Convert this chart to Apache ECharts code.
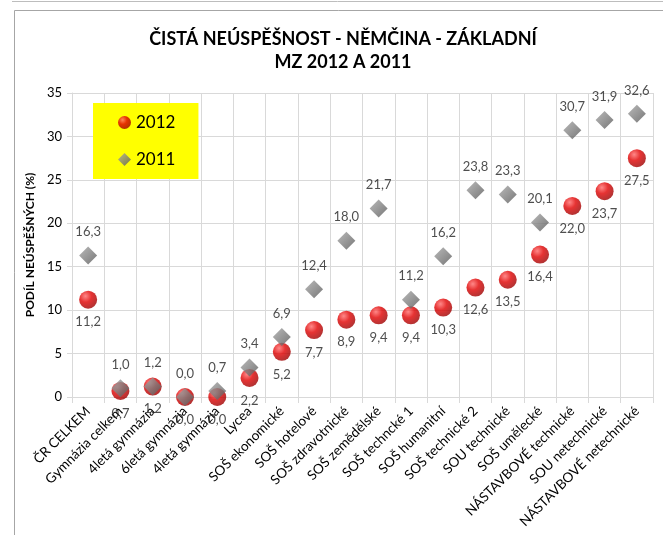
<!DOCTYPE html>
<html>
<head>
<meta charset="utf-8">
<script src="https://cdn.jsdelivr.net/npm/echarts@6/dist/echarts.min.js"></script>
<style>
  html, body { margin: 0; padding: 0; background: #fff; }
  #chart { width: 663px; height: 535px; }
</style>
</head>
<body>
<div id="chart"></div>
<script>
// kategorie škol
var categories = [
  'ČR CELKEM', 'Gymnázia celkem', '4letá gymnázia', '6letá gymnázia', '4letá gymnázia',
  'Lycea', 'SOŠ ekonomické', 'SOŠ hotelové', 'SOŠ zdravotnické', 'SOŠ zemědělské',
  'SOŠ techncké 1', 'SOŠ humanitní', 'SOŠ technické 2', 'SOU technické', 'SOŠ umělecké',
  'NÁSTAVBOVÉ technické', 'SOU netechnické', 'NÁSTAVBOVÉ netechnické'
]
var values2012 = [11.2, 0.7, 1.2, 0.0, 0.0, 2.2, 5.2, 7.7, 8.9, 9.4, 9.4, 10.3, 12.6, 13.5, 16.4, 22.0, 23.7, 27.5]
var values2011 = [16.3, 1.0, 1.2, 0.0, 0.7, 3.4, 6.9, 12.4, 18.0, 21.7, 11.2, 16.2, 23.8, 23.3, 20.1, 30.7, 31.9, 32.6]
var yTicks = [0, 5, 10, 15, 20, 25, 30, 35]

var fontFamily = 'Lato, "Open Sans", sans-serif'
var chart = echarts.init(document.getElementById('chart'))

// číslo s desetinnou čárkou
function fmt(p) {
  return p.value.toFixed(1).replace('.', ',')
}

var redBall = new echarts.graphic.RadialGradient(0.35, 0.3, 0.75, [
  { offset: 0, color: '#ff6a6a' },
  { offset: 0.45, color: '#e00000' },
  { offset: 1, color: '#9a0000' }
])
var grayDiamond = new echarts.graphic.LinearGradient(0, 0, 1, 1, [
  { offset: 0, color: '#a8a8a8' },
  { offset: 0.5, color: '#7f7f7f' },
  { offset: 1, color: '#555555' }
])

chart.setOption({
  animation: false,
  textStyle: { fontFamily: fontFamily },
  title: {
    text: 'ČISTÁ NEÚSPĚŠNOST - NĚMČINA - ZÁKLADNÍ\nMZ 2012 A 2011',
    left: 338,
    textAlign: 'center',
    top: 23,
    textStyle: {
      fontFamily: fontFamily,
      fontSize: 18,
      fontWeight: 'bold',
      color: '#000',
      lineHeight: 23
    }
  },
  graphic: [
    { type: 'line', shape: { x1: 12, y1: 1.5, x2: 663, y2: 1.5 }, style: { stroke: '#bdbdbd', lineWidth: 1 } },
    { type: 'line', shape: { x1: 14.5, y1: 10.5, x2: 663, y2: 10.5 }, style: { stroke: '#a6a6a6', lineWidth: 1 } },
    { type: 'line', shape: { x1: 14.5, y1: 10.5, x2: 14.5, y2: 535 }, style: { stroke: '#a6a6a6', lineWidth: 1 } }
  ],
  legend: {
    orient: 'vertical',
    left: 93,
    top: 103,
    backgroundColor: '#ffff00',
    padding: [11, 23, 11, 25],
    itemGap: 20,
    itemWidth: 13,
    itemHeight: 13,
    data: ['2012', '2011'],
    textStyle: { fontSize: 17, color: '#000', fontFamily: fontFamily }
  },
  grid: {
    left: 72,
    right: 10,
    top: 93,
    bottom: 138
  },
  xAxis: {
    type: 'category',
    data: categories,
    boundaryGap: true,
    axisLine: { show: true, lineStyle: { color: '#d9d9d9' } },
    axisTick: { show: true, length: 6, lineStyle: { color: '#d9d9d9' } },
    splitLine: { show: true, lineStyle: { color: '#d9d9d9' } },
    axisLabel: {
      interval: 0,
      rotate: 45,
      fontSize: 13.5,
      color: '#000',
      margin: 12
    }
  },
  yAxis: {
    type: 'value',
    min: 0,
    max: 35,
    interval: 5,
    name: 'PODÍL NEÚSPĚŠNÝCH (%)',
    nameLocation: 'middle',
    nameRotate: 90,
    nameGap: 23,
    nameTextStyle: { fontSize: 12, fontWeight: 'bold', color: '#000' },
    axisLine: { show: true, lineStyle: { color: '#d9d9d9' } },
    axisTick: { show: true, length: 5, lineStyle: { color: '#d9d9d9' } },
    splitLine: { show: true, lineStyle: { color: '#d9d9d9' } },
    axisLabel: {
      fontSize: 13,
      color: '#000',
      margin: 10,
      formatter: function (v) { return yTicks.indexOf(v) >= 0 ? String(v) : '' }
    }
  },
  series: [
    {
      name: '2012',
      type: 'scatter',
      data: values2012,
      symbol: 'circle',
      symbolSize: 18,
      itemStyle: { color: redBall },
      label: {
        show: true,
        position: 'bottom',
        distance: 7,
        fontSize: 13,
        color: '#222',
        formatter: fmt
      }
    },
    {
      name: '2011',
      type: 'scatter',
      data: values2011,
      symbol: 'diamond',
      symbolSize: 18,
      itemStyle: { color: grayDiamond },
      label: {
        show: true,
        position: 'top',
        distance: 8,
        fontSize: 13,
        color: '#222',
        formatter: fmt
      }
    }
  ]
})
</script>
</body>
</html>
